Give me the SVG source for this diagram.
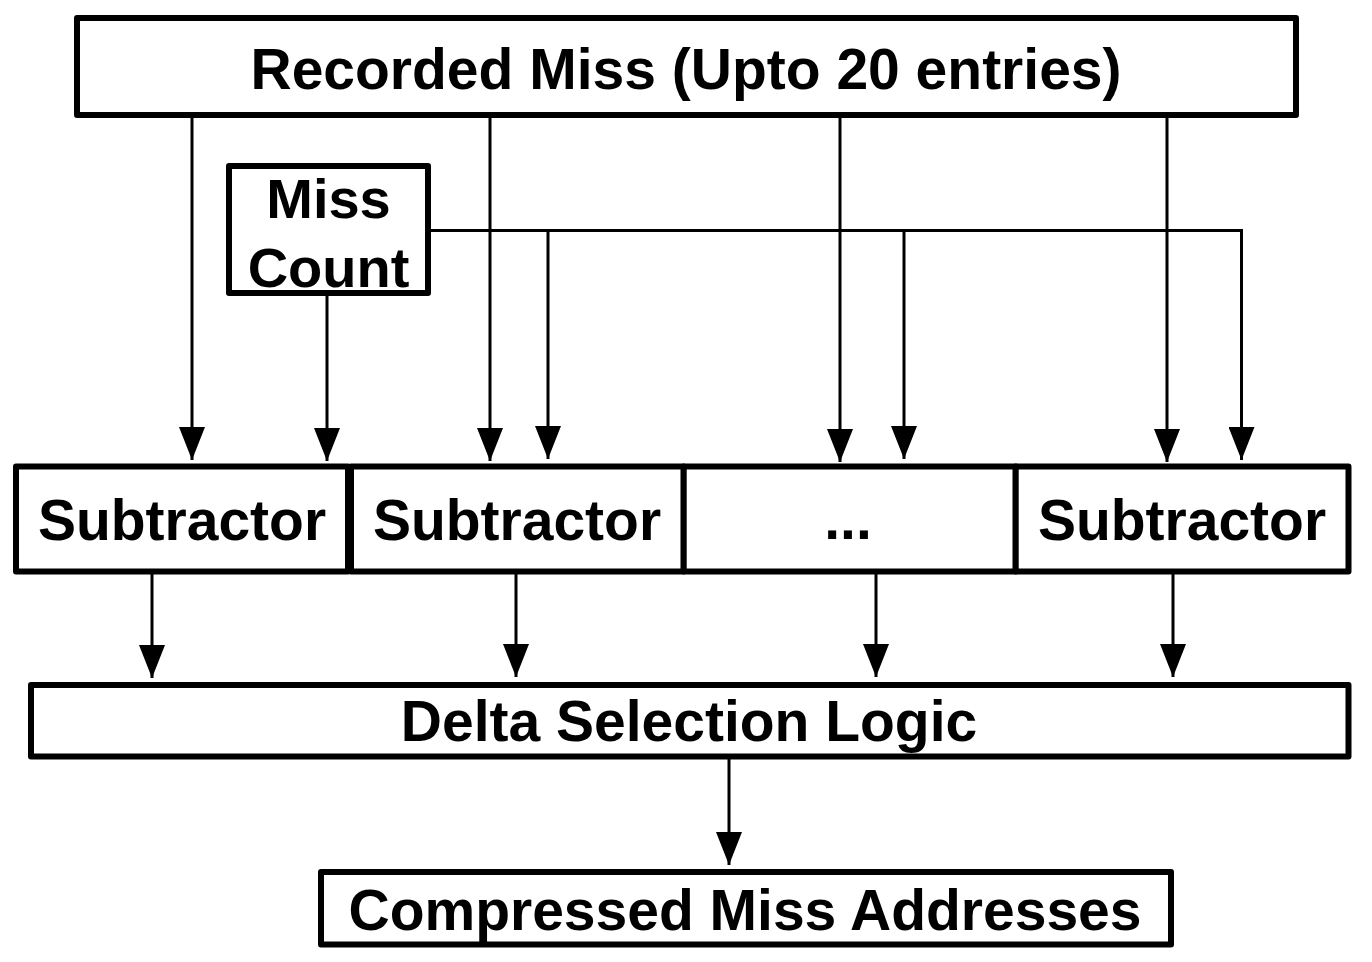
<svg xmlns="http://www.w3.org/2000/svg" width="1372" height="962" viewBox="0 0 1372 962">
<style>
.box{fill:#fff;stroke:#000;stroke-width:6;stroke-linejoin:round}
.lbl{font-family:"Liberation Sans",Arial,Helvetica,sans-serif;font-weight:bold;font-size:57px;fill:#000;text-anchor:middle}
.wire{fill:none;stroke:#000;stroke-width:3}
.arr{fill:none;stroke:#000;stroke-width:3;marker-end:url(#ah)}
</style>
<defs>
<marker id="ah" markerUnits="userSpaceOnUse" markerWidth="34" markerHeight="26" refX="33" refY="13" orient="auto">
<path d="M0,0 L33,13 L0,26 Z" fill="#000"/>
</marker>
</defs>
<rect width="1372" height="962" fill="#fff"/>
<g id="connectors">
<line class="arr" x1="192" y1="118" x2="192" y2="460"/>
<line class="arr" x1="490" y1="118" x2="490" y2="461"/>
<line class="arr" x1="840" y1="118" x2="840" y2="462"/>
<line class="arr" x1="1167" y1="118" x2="1167" y2="462"/>
<line class="arr" x1="327" y1="296" x2="327" y2="461"/>
<polyline class="wire" points="431,230.5 1241.5,230.5 1241.5,420"/>
<line class="arr" x1="1241.5" y1="230" x2="1241.5" y2="460"/>
<line class="arr" x1="548" y1="230" x2="548" y2="459"/>
<line class="arr" x1="904" y1="230" x2="904" y2="459"/>
<line class="arr" x1="152" y1="574" x2="152" y2="678"/>
<line class="arr" x1="516" y1="574" x2="516" y2="677"/>
<line class="arr" x1="876" y1="574" x2="876" y2="677"/>
<line class="arr" x1="1173" y1="574" x2="1173" y2="677"/>
<line class="arr" x1="729" y1="759" x2="729" y2="865"/>
</g>
<g id="recorded-miss">
<rect class="box" x="77" y="18" width="1219" height="97"/>
<text class="lbl" x="686" y="89">Recorded Miss (Upto 20 entries)</text>
</g>
<g id="miss-count">
<rect class="box" x="229" y="166" width="199" height="127"/>
<text class="lbl" x="328.5" y="218" style="font-size:56px">Miss</text>
<text class="lbl" x="328.5" y="287" style="font-size:56px">Count</text>
</g>
<g id="subtractor-1">
<rect class="box" x="16" y="466.5" width="332" height="105"/>
<text class="lbl" x="182" y="540">Subtractor</text>
</g>
<g id="subtractor-2">
<rect class="box" x="351" y="466.5" width="332.7" height="105"/>
<text class="lbl" x="517" y="540">Subtractor</text>
</g>
<g id="subtractor-ellipsis">
<rect class="box" x="683.7" y="466.5" width="332" height="105"/>
<text class="lbl" x="848" y="539">...</text>
</g>
<g id="subtractor-4">
<rect class="box" x="1015.7" y="466.5" width="332.8" height="105"/>
<text class="lbl" x="1182" y="540">Subtractor</text>
</g>
<g id="delta-selection">
<rect class="box" x="31" y="685" width="1317.5" height="71.5"/>
<text class="lbl" x="689" y="741">Delta Selection Logic</text>
</g>
<g id="compressed">
<rect class="box" x="321" y="872" width="850" height="72.5"/>
<text class="lbl" x="745" y="930">Compressed Miss Addresses</text>
</g>
</svg>
